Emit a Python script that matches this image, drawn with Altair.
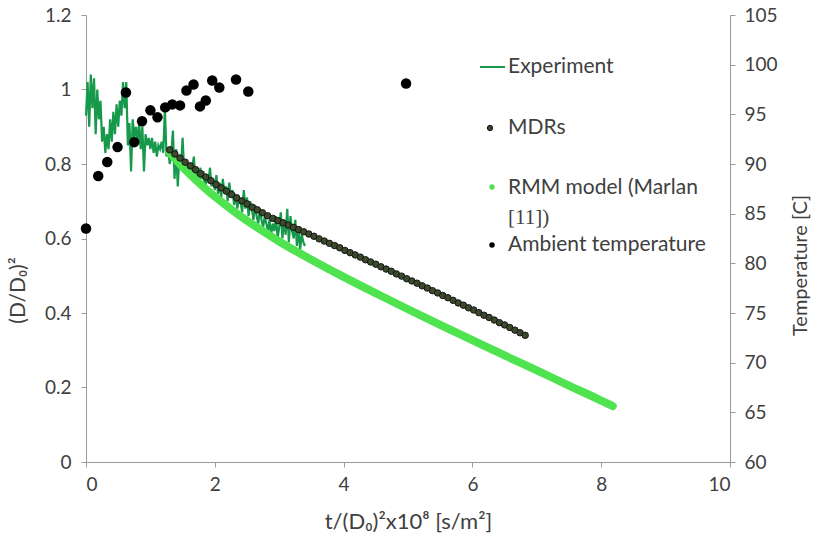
import altair as alt
import pandas as pd

# ---------------- data ----------------
exp_x = [0.000, 0.025, 0.050, 0.075, 0.100, 0.125, 0.150, 0.175,
         0.200, 0.225, 0.250, 0.275, 0.300, 0.325, 0.350, 0.375,
         0.400, 0.425, 0.450, 0.475, 0.500, 0.525, 0.550, 0.575,
         0.600, 0.625, 0.650, 0.675, 0.700, 0.725, 0.750, 0.775,
         0.800, 0.825, 0.850, 0.875, 0.900, 0.925, 0.950, 0.975,
         1.000, 1.025, 1.050, 1.075, 1.100, 1.125, 1.150, 1.175,
         1.200, 1.225, 1.250, 1.275, 1.300, 1.325, 1.350, 1.375,
         1.400, 1.425, 1.450, 1.475, 1.500, 1.525, 1.550, 1.575,
         1.600, 1.625, 1.650, 1.675, 1.700, 1.725, 1.750, 1.775,
         1.800, 1.825, 1.850, 1.875, 1.900, 1.925, 1.950, 1.975,
         2.000, 2.025, 2.050, 2.075, 2.100, 2.125, 2.150, 2.175,
         2.200, 2.225, 2.250, 2.275, 2.300, 2.325, 2.350, 2.375,
         2.400, 2.425, 2.450, 2.475, 2.500, 2.525, 2.550, 2.575,
         2.600, 2.625, 2.650, 2.675, 2.700, 2.725, 2.750, 2.775,
         2.800, 2.825, 2.850, 2.875, 2.900, 2.925, 2.950, 2.975,
         3.000, 3.025, 3.050, 3.075, 3.100, 3.125, 3.150, 3.175,
         3.200, 3.225, 3.250, 3.275, 3.300, 3.325, 3.350, 3.375,
         3.400]
exp_y = [0.93, 1.02, 0.90, 1.04, 0.95, 1.03, 0.88, 1.00,
         0.92, 0.97, 0.86, 0.90, 0.83, 0.88, 0.84, 0.92,
         0.86, 0.94, 0.88, 0.96, 0.90, 0.97, 0.93, 1.02,
         0.95, 1.02, 0.85, 0.91, 0.78, 0.92, 0.87, 0.90,
         0.86, 0.91, 0.84, 0.90, 0.78, 0.88, 0.85, 0.87,
         0.84, 0.87, 0.83, 0.86, 0.82, 0.85, 0.84, 0.86,
         0.83, 0.95, 0.82, 0.84, 0.80, 0.83, 0.89, 0.76,
         0.84, 0.74, 0.82, 0.79, 0.87, 0.78, 0.81, 0.77,
         0.80, 0.76, 0.79, 0.82, 0.75, 0.78, 0.74, 0.79,
         0.76, 0.78, 0.73, 0.77, 0.75, 0.79, 0.74, 0.76,
         0.73, 0.77, 0.72, 0.75, 0.71, 0.76, 0.72, 0.74,
         0.70, 0.75, 0.71, 0.73, 0.69, 0.72, 0.68, 0.71,
         0.70, 0.67, 0.73, 0.68, 0.71, 0.66, 0.70, 0.68,
         0.65, 0.69, 0.66, 0.64, 0.68, 0.65, 0.63, 0.66,
         0.64, 0.62, 0.65, 0.61, 0.64, 0.62, 0.66, 0.60,
         0.63, 0.67, 0.60, 0.65, 0.61, 0.68, 0.59, 0.66,
         0.62, 0.60, 0.65, 0.58, 0.63, 0.57, 0.61, 0.59,
         0.58]

mdr_x = [1.30, 1.38, 1.46, 1.54, 1.62, 1.70, 1.78, 1.86, 1.94, 2.02,
         2.10, 2.18, 2.26, 2.34, 2.42, 2.50, 2.58, 2.66, 2.74, 2.82,
         2.90, 2.98, 3.06, 3.14, 3.22, 3.30, 3.38, 3.46, 3.54, 3.62,
         3.70, 3.78, 3.86, 3.94, 4.02, 4.10, 4.18, 4.26, 4.34, 4.42,
         4.50, 4.58, 4.66, 4.74, 4.82, 4.90, 4.98, 5.06, 5.14, 5.22,
         5.30, 5.38, 5.46, 5.54, 5.62, 5.70, 5.78, 5.86, 5.94, 6.02,
         6.10, 6.18, 6.26, 6.34, 6.42, 6.50, 6.58, 6.66, 6.74, 6.82]
mdr_y = [0.838, 0.827, 0.816, 0.805, 0.795, 0.785, 0.774, 0.765, 0.755, 0.745,
         0.736, 0.727, 0.718, 0.709, 0.701, 0.693, 0.684, 0.677, 0.669, 0.661,
         0.654, 0.648, 0.642, 0.636, 0.630, 0.624, 0.618, 0.612, 0.606, 0.599,
         0.593, 0.587, 0.581, 0.575, 0.568, 0.562, 0.556, 0.550, 0.543, 0.537,
         0.531, 0.524, 0.518, 0.512, 0.505, 0.499, 0.492, 0.486, 0.480, 0.473,
         0.467, 0.460, 0.454, 0.447, 0.441, 0.434, 0.427, 0.421, 0.414, 0.408,
         0.401, 0.394, 0.388, 0.381, 0.374, 0.368, 0.361, 0.354, 0.347, 0.340]

rmm_x = [1.30, 1.50, 1.70, 1.90, 2.10, 2.40, 2.70, 3.00, 3.50, 4.00,
         4.50, 5.00, 5.50, 6.00, 6.50, 7.00, 7.50, 8.00, 8.18]
rmm_y = [0.830, 0.792, 0.758, 0.727, 0.699, 0.660, 0.625, 0.592, 0.543, 0.497,
         0.453, 0.410, 0.368, 0.327, 0.286, 0.246, 0.205, 0.165, 0.150]

amb_x = [0.00, 0.19, 0.33, 0.49, 0.62, 0.75, 0.87, 1.00, 1.11, 1.23,
         1.34, 1.46, 1.56, 1.67, 1.77, 1.86, 1.96, 2.07, 2.33, 2.52, 4.97]
amb_t = [83.5, 88.8, 90.2, 91.7, 97.2, 92.2, 94.3, 95.4, 94.7, 95.7,
         96.0, 95.9, 97.4, 98.0, 95.8, 96.4, 98.4, 97.7, 98.5, 97.3, 98.1]

x_ticks = [0, 2, 4, 6, 8, 10]
y_ticks = [0, 0.2, 0.4, 0.6, 0.8, 1.0, 1.2]
t_ticks = [60, 65, 70, 75, 80, 85, 90, 95, 100, 105]

legend_labels = ["Experiment", "MDRs", "RMM model (Marlan", "[11])", "Ambient temperature"]

exp_df = pd.DataFrame({"x": exp_x, "y": exp_y})
mdr_df = pd.DataFrame({"x": mdr_x, "y": mdr_y})
rmm_df = pd.DataFrame({"x": rmm_x, "y": rmm_y})
amb_df = pd.DataFrame({"x": amb_x, "t": amb_t})
one = pd.DataFrame({"a": [0]})

# ---------------- styles ----------------
FONT = "Lato"
TXT = "#404040"
AX = "#9a9a9a"
W, H = 644, 447

xscale = alt.Scale(domain=[0, 10], nice=False)
yscale = alt.Scale(domain=[0, 1.2], nice=False)
tscale = alt.Scale(domain=[60, 105], nice=False)

x_axis = alt.Axis(values=x_ticks, format="~g", title="t/(D\u2080)\u00b2x10\u2078 [s/m\u00b2]",
                  grid=False, tickSize=5, tickColor=AX, domainColor=AX,
                  labelFont=FONT, labelFontSize=19, labelColor=TXT, labelPadding=8,
                  titleFont=FONT, titleFontSize=22, titleFontWeight="normal",
                  titleColor=TXT, titleY=59, titleBaseline="middle")

y_axis = alt.Axis(values=y_ticks, format="~g", title="(D/D\u2080)\u00b2",
                  grid=False, tickSize=5, tickColor=AX, domainColor=AX,
                  labelFont=FONT, labelFontSize=19, labelColor=TXT, labelPadding=10,
                  titleFont=FONT, titleFontSize=21, titleFontWeight="normal",
                  titleColor=TXT, titleAngle=270, titleX=-68, titleY=275,
                  titleAlign="center", titleBaseline="middle")

t_axis = alt.Axis(values=t_ticks, orient="right", title="Temperature [C]",
                  grid=False, tickSize=5, tickColor=AX, domainColor=AX,
                  labelFont=FONT, labelFontSize=19, labelColor=TXT, labelPadding=9,
                  titleFont=FONT, titleFontSize=20, titleFontWeight="normal",
                  titleColor=TXT, titleAngle=270, titleX=70, titleY=250,
                  titleAlign="center", titleBaseline="middle")

exp_line = alt.Chart(exp_df).mark_line(color="#17994b", strokeWidth=2.2).encode(
    x=alt.X("x:Q", scale=xscale, axis=x_axis),
    y=alt.Y("y:Q", scale=yscale, axis=y_axis),
    order="x:Q",
)
rmm_line = alt.Chart(rmm_df).mark_line(color="#4fe34f", strokeWidth=8, strokeCap="round",
                                       interpolate="monotone").encode(
    x=alt.X("x:Q", scale=xscale),
    y=alt.Y("y:Q", scale=yscale),
)
mdr_pts = alt.Chart(mdr_df).mark_point(filled=True, size=42, fill="#3c4a2c", stroke="#151515",
                                       strokeWidth=1, opacity=1).encode(
    x=alt.X("x:Q", scale=xscale),
    y=alt.Y("y:Q", scale=yscale),
)
left = alt.layer(exp_line, rmm_line, mdr_pts)

amb_pts = alt.Chart(amb_df).mark_circle(size=110, color="#000000", opacity=1).encode(
    x=alt.X("x:Q", scale=xscale),
    y=alt.Y("t:Q", scale=tscale, axis=t_axis),
)

# ---------------- legend ----------------
LX_TXT = 422
leg_line = alt.Chart(one).mark_rule(color="#17994b", strokeWidth=2).encode(
    x=alt.value(394), x2=alt.value(419), y=alt.value(52))
leg_mdr = alt.Chart(one).mark_point(filled=True, size=28, fill="#3c4a2c", stroke="#151515",
                                    strokeWidth=1, opacity=1).encode(
    x=alt.value(404), y=alt.value(113))
leg_rmm = alt.Chart(one).mark_circle(size=28, color="#4fe34f", opacity=1).encode(
    x=alt.value(406), y=alt.value(172))
leg_amb = alt.Chart(one).mark_circle(size=30, color="#000000", opacity=1).encode(
    x=alt.value(406), y=alt.value(230))

def leg_text(label, y, font=FONT):
    return alt.Chart(one).mark_text(align="left", baseline="middle", font=font,
                                    fontSize=21, color=TXT).encode(
        x=alt.value(LX_TXT), y=alt.value(y), text=alt.value(label))

legend = alt.layer(
    leg_line, leg_mdr, leg_rmm, leg_amb,
    leg_text(legend_labels[0], 52),
    leg_text(legend_labels[1], 113),
    leg_text(legend_labels[2], 173),
    leg_text(legend_labels[3], 203, "Liberation Serif"),
    leg_text(legend_labels[4], 230),
)

chart = alt.layer(left, amb_pts, legend).resolve_scale(y="independent").properties(
    width=W, height=H,
    autosize=alt.AutoSizeParams(type="none"),
    padding={"left": 86, "top": 15, "right": 90, "bottom": 78},
    background="white",
).configure_view(stroke=None)

chart.save("out.html", embed_options={"renderer": "svg", "actions": False})
